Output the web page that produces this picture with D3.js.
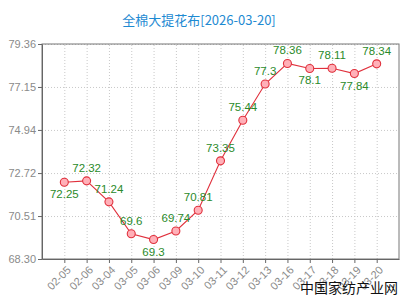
<!DOCTYPE html>
<html>
<head>
<meta charset="utf-8">
<script src="https://cdn.jsdelivr.net/npm/d3@7"></script>
<style>
  body { margin: 0; background: #fff; }
  svg { display: block; }
  .axis text { font-family: "Liberation Sans", Arial, sans-serif; font-size: 11px; fill: #8a8a8a; }
  .axis path, .axis line { stroke: #666; }
  .grid line { stroke: #c8c8c8; stroke-dasharray: 1,2; }
  .grid path { display: none; }
</style>
</head>
<body>
<div id="chart"></div>
<script>
// chart data
const dates = ['02-05', '02-06', '03-04', '03-05', '03-06', '03-09', '03-10', '03-11',
               '03-12', '03-13', '03-16', '03-17', '03-18', '03-19', '03-20'];
const prices = [72.25, 72.32, 71.24, 69.6, 69.3, 69.74, 70.81, 73.35,
                75.44, 77.3, 78.36, 78.1, 78.11, 77.84, 78.34];
const yTicks = [68.30, 70.51, 72.72, 74.94, 77.15, 79.36];
const title = '全棉大提花布[2026-03-20]';
const watermark = '中国家纺产业网';

const width = 400, height = 300;
const margin = {top: 44, right: 1, bottom: 41, left: 42};
const innerW = width - margin.left - margin.right;
const innerH = height - margin.top - margin.bottom;

const svg = d3.select('#chart').append('svg')
    .attr('width', width)
    .attr('height', height);

const chart = svg.append('g')
    .attr('transform', `translate(${margin.left},${margin.top})`);

const xScale = d3.scalePoint()
    .domain(dates)
    .range([0, innerW])
    .padding(1);

const yScale = d3.scaleLinear()
    .domain([yTicks[0], yTicks[yTicks.length - 1]])
    .range([innerH, 0]);

// grid
chart.append('g')
    .attr('class', 'grid')
    .call(d3.axisLeft(yScale).tickValues(yTicks).tickSize(-innerW).tickFormat(''));
chart.append('g')
    .attr('class', 'grid')
    .attr('transform', `translate(0,${innerH})`)
    .call(d3.axisBottom(xScale).tickSize(-innerH).tickFormat(''));

// frame
chart.append('rect')
    .attr('width', innerW)
    .attr('height', innerH)
    .attr('fill', 'none')
    .attr('stroke', '#777')
    .attr('stroke-width', 1);

// axes
chart.append('g')
    .attr('class', 'axis y-axis')
    .call(d3.axisLeft(yScale).tickValues(yTicks).tickSize(4).tickSizeOuter(0)
        .tickFormat(d3.format('.2f')))
    .call(g => g.selectAll('text').attr('x', -6));

const xAxisG = chart.append('g')
    .attr('class', 'axis x-axis')
    .attr('transform', `translate(0,${innerH})`)
    .call(d3.axisBottom(xScale).tickSize(4).tickSizeOuter(0));

xAxisG.selectAll('text')
    .attr('text-anchor', 'end')
    .attr('dy', '0.35em')
    .attr('x', 0)
    .attr('y', 0)
    .attr('transform', 'translate(4,9) rotate(-45)');

// line
const line = d3.line()
    .x((d, i) => xScale(dates[i]))
    .y(d => yScale(d));

chart.append('path')
    .datum(prices)
    .attr('fill', 'none')
    .attr('stroke', '#e0303c')
    .attr('stroke-width', 1.1)
    .attr('d', line);

chart.selectAll('.dot')
    .data(prices)
    .join('circle')
    .attr('class', 'dot')
    .attr('cx', (d, i) => xScale(dates[i]))
    .attr('cy', d => yScale(d))
    .attr('r', 4)
    .attr('fill', '#ffb0b8')
    .attr('stroke', '#e0303c')
    .attr('stroke-width', 1.1);

// value labels: local minima go below the point
const isLow = (i) => {
    const prev = i > 0 ? prices[i - 1] : Infinity;
    const next = i < prices.length - 1 ? prices[i + 1] : Infinity;
    return prices[i] < prev && prices[i] < next;
};

chart.selectAll('.val')
    .data(prices)
    .join('text')
    .attr('class', 'val')
    .attr('x', (d, i) => xScale(dates[i]))
    .attr('y', (d, i) => yScale(d) + (isLow(i) ? 16 : -9))
    .attr('text-anchor', 'middle')
    .style('font-family', '"Liberation Sans", Arial, sans-serif')
    .style('font-size', '11.5px')
    .style('fill', '#2a8a2a')
    .text(d => d);

// title
svg.append('text')
    .attr('x', 199)
    .attr('y', 25)
    .attr('text-anchor', 'middle')
    .style('font-family', '"Noto Sans CJK SC", sans-serif')
    .style('font-size', '13px')
    .style('fill', '#1e8ad2')
    .text(title);

// watermark
svg.append('text')
    .attr('x', 300)
    .attr('y', 293)
    .style('font-family', '"Noto Sans CJK SC", sans-serif')
    .style('font-size', '14px')
    .style('fill', '#111')
    .text(watermark);
</script>
</body>
</html>
